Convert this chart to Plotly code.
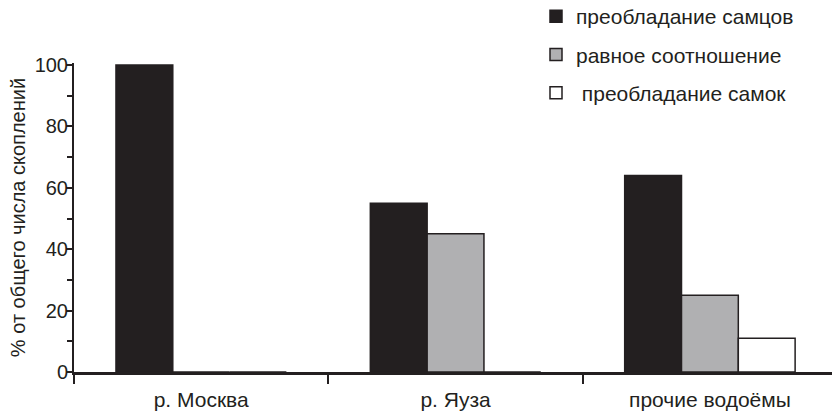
import plotly.graph_objects as go

categories = ["р. Москва", "р. Яуза", "прочие водоёмы"]
series_names = ["преобладание самцов", "равное соотношение", " преобладание самок"]
males_dominant = [100, 55, 64]
equal_ratio = [0, 45, 25]
females_dominant = [0, 0, 11]
y_ticks = [0, 20, 40, 60, 80, 100]

INK = "#231f20"
FONT = "Liberation Sans, Arial, sans-serif"
fills = [INK, "#b0b0b2", "#ffffff"]
values = [males_dominant, equal_ratio, females_dominant]

fig = go.Figure()
for i, (name, vals, fill) in enumerate(zip(series_names, values, fills)):
    fig.add_trace(go.Bar(
        x=categories, y=vals, name=name,
        marker=dict(color=fill, line=dict(color=INK, width=1.5)),
        legendgroup=f"g{i}",
    ))

L, T, W, H = 74, 63, 832, 415
B = 43
PW, PH = W - L, H - T - B

fig.update_layout(
    width=W, height=H,
    margin=dict(l=L, r=0, t=T, b=B, autoexpand=False),
    paper_bgcolor="white", plot_bgcolor="white",
    barmode="group", bargap=0.33, bargroupgap=0,
    font=dict(family=FONT, color=INK, size=20),
    showlegend=True,
    legend=dict(
        x=(536 - L) / PW, y=1 + (T + 4) / PH, xanchor="left", yanchor="top",
        font=dict(size=21, color=INK),
        traceorder="grouped", tracegroupgap=8,
        bgcolor="rgba(0,0,0,0)", borderwidth=0,
    ),
)

fig.update_xaxes(
    range=[-0.5, 2.48], showline=True, linecolor=INK, linewidth=2.5,
    ticks="outside", tickson="boundaries", ticklen=9, tickwidth=2, tickcolor=INK,
    tickfont=dict(size=21, color=INK), ticklabelstandoff=7, tickangle=0,
    showgrid=False, zeroline=False, fixedrange=True,
)
fig.update_yaxes(
    range=[0, 100.65], showline=True, linecolor=INK, linewidth=2,
    tickvals=y_ticks, ticks="outside", ticklen=6, tickwidth=2, tickcolor=INK,
    minor=dict(dtick=10, tick0=0, ticks="outside", ticklen=5, tickwidth=2, tickcolor=INK, showgrid=False),
    tickfont=dict(size=20, color=INK), ticklabelstandoff=-6,
    title=dict(text="% от общего числа скоплений", font=dict(size=20, color=INK), standoff=4),
    showgrid=False, zeroline=False, fixedrange=True,
)

fig.write_html(
    "out.html",
    config={"displayModeBar": False},
    post_script="document.body.style.margin='0px';document.body.style.overflow='hidden';",
)
